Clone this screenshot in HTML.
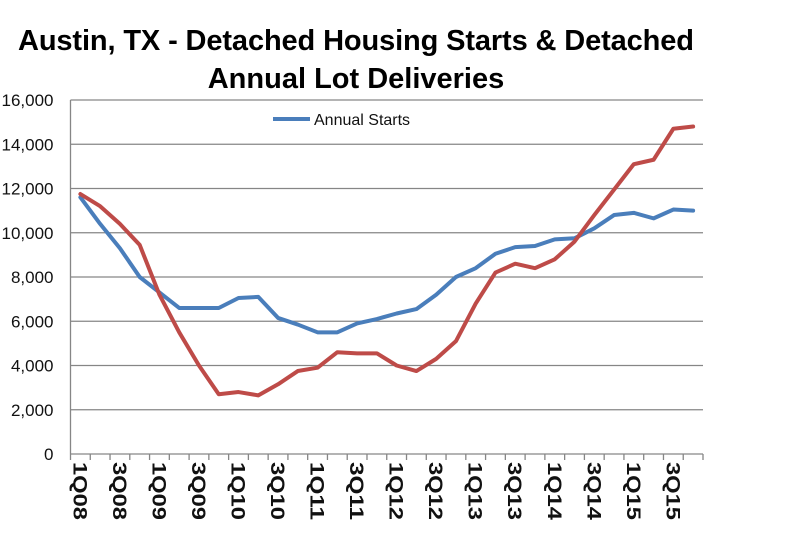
<!DOCTYPE html>
<html><head><meta charset="utf-8"><style>
body{margin:0;background:#fff;width:805px;height:554px;overflow:hidden;font-family:"Liberation Sans",sans-serif}
</style></head><body>
<svg width="805" height="554">
<text x="356" y="50" text-anchor="middle" font-size="29" font-weight="bold" textLength="676">Austin, TX - Detached Housing Starts &amp; Detached</text>
<text x="356" y="88" text-anchor="middle" font-size="29" font-weight="bold">Annual Lot Deliveries</text>
<g id="grid"></g><g id="axes"></g><g id="series"></g>
<line x1="273" y1="119" x2="310" y2="119" stroke="#4a7ebb" stroke-width="4"/>
<text x="314" y="125" font-size="16" fill="#111">Annual Starts</text>
</svg>
<script>
const categories=["1Q08","2Q08","3Q08","4Q08","1Q09","2Q09","3Q09","4Q09","1Q10","2Q10","3Q10","4Q10","1Q11","2Q11","3Q11","4Q11","1Q12","2Q12","3Q12","4Q12","1Q13","2Q13","3Q13","4Q13","1Q14","2Q14","3Q14","4Q14","1Q15","2Q15","3Q15","4Q15"];
const starts=[11600,10400,9300,8000,7300,6600,6600,6600,7050,7100,6150,5850,5500,5500,5900,6100,6350,6550,7200,8000,8400,9050,9350,9400,9700,9750,10200,10800,10900,10650,11050,11000];
const lots=[11750,11200,10400,9450,7200,5500,4000,2700,2800,2650,3150,3750,3900,4600,4550,4550,4000,3750,4300,5100,6800,8200,8600,8400,8800,9600,10800,11950,13100,13300,14700,14800];
const yTicks=[0,2000,4000,6000,8000,10000,12000,14000,16000];
const L=70.5,R=703,T=100,B=454,NS="http://www.w3.org/2000/svg";
const bw=(R-L)/categories.length;
const x=i=>L+bw*(i+0.5), y=v=>B-(v/16000)*(B-T);
function mk(tag,attrs,parent){const e=document.createElementNS(NS,tag);for(const k in attrs)e.setAttribute(k,attrs[k]);document.getElementById(parent).appendChild(e);return e;}
yTicks.forEach(v=>{
 const l=mk('line',{x1:L,x2:R,y1:y(v),y2:y(v),stroke:'#868686','stroke-width':1.3},'grid');
 
 
 const t=mk('text',{x:L-17,y:y(v)+6,'text-anchor':'end','font-size':17,fill:'#111'},'axes');
 t.textContent=v.toLocaleString('en-US');
 
 
});
const ya=mk('line',{x1:L,x2:L,y1:T,y2:B,stroke:'#868686','stroke-width':1.3},'axes');


for(let i=0;i<=categories.length;i++){
 const tk=mk('line',{x1:L+bw*i,x2:L+bw*i,y1:B,y2:B+6,stroke:'#868686','stroke-width':1.3},'axes');
 
 
}
categories.forEach((c,i)=>{ if(i%2) return;
 const t=mk('text',{x:0,y:0,'font-size':19,'font-weight':'bold',fill:'#111',textLength:58,lengthAdjust:'spacingAndGlyphs',transform:`translate(${x(i)-7},${B+8}) rotate(90)`},'axes');
 t.textContent=c;
 
 
});
function line(data,color,name){
 const p=mk('polyline',{points:data.map((v,i)=>x(i)+','+y(v)).join(' '),fill:'none',stroke:color,'stroke-width':4,'stroke-linejoin':'round','stroke-linecap':'round'},'series');
 
 
}
line(starts,'#4a7ebb','annual-starts-line');
line(lots,'#be4b48','lot-deliveries-line');
</script>
</body></html>
